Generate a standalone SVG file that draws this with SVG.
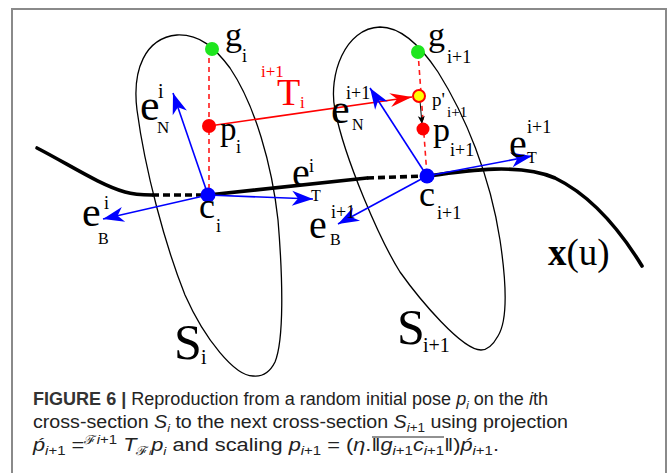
<svg xmlns="http://www.w3.org/2000/svg" width="670" height="473" viewBox="0 0 670 473">
<defs>
<style>
.frame{fill:none;stroke:#8a8a8a;stroke-width:2}
.outline{fill:none;stroke:#000;stroke-width:1.3}
.curve{fill:none;stroke:#000;stroke-width:3.6;stroke-linecap:round}
.curvedash{fill:none;stroke:#000;stroke-width:3.6;stroke-dasharray:7 4}
.reddash{fill:none;stroke:#ff1a1a;stroke-width:1.6;stroke-dasharray:5 4}
.vec{fill:none;stroke:#0000ff;stroke-width:1.6;marker-end:url(#blueHead)}
.tvec{fill:none;stroke:#ff0000;stroke-width:1.6;marker-end:url(#redHead)}
.kvec{fill:none;stroke:#000;stroke-width:1;marker-end:url(#blackHead)}
.lbl{font-family:"Liberation Serif","Times New Roman",serif;fill:#000}
.red{fill:#ff0000}
.cap{font-family:"Liberation Sans",Arial,sans-serif;font-size:17.5px;fill:#222}
.it{font-style:italic}
</style>
<marker id="blueHead" viewBox="-23 -9 25 18" markerWidth="25" markerHeight="18" refX="0" refY="0" orient="auto" markerUnits="userSpaceOnUse">
<path d="M0,0 L-21,-7.5 L-15,0 L-21,7.5 Z" fill="#0000ff"/>
</marker>
<marker id="redHead" viewBox="-24 -9 26 18" markerWidth="26" markerHeight="18" refX="0" refY="0" orient="auto" markerUnits="userSpaceOnUse">
<path d="M0,0 L-22,-7 L-15,0 L-22,7 Z" fill="#ff0000"/>
</marker>
<marker id="blackHead" viewBox="-10 -5 12 10" markerWidth="12" markerHeight="10" refX="0" refY="0" orient="auto" markerUnits="userSpaceOnUse">
<path d="M0,0 L-8,-3.5 L-6,0 L-8,3.5 Z" fill="#000"/>
</marker>
</defs>
<rect width="670" height="473" fill="#fff"/>
<path class="frame" d="M12,473 V9 H666 V473"/>

<g id="section-Si">
<path class="outline" d="M253,376 C235,376 205,340 185,295 C165,245 145,170 137,110 C132,70 145,38 177,35 C200,34 215,48 230,68 C255,105 272,165 278,220 C283,280 284,340 275,362 C270,372 262,377 253,376 Z"/>
<text class="lbl" x="174" y="359" font-size="50">S</text>
<text class="lbl" x="201" y="364" font-size="20">i</text>
</g>
<g id="section-Si1">
<path class="outline" d="M481,350 C462,350 420,300 400,272 C380,240 345,160 335,110 C328,75 345,28 380,27 C400,27 420,45 438,72 C465,115 490,175 500,240 C506,280 508,320 498,336 C493,345 488,350 481,350 Z"/>
<text class="lbl" x="397" y="344" font-size="50">S</text>
<text class="lbl" x="423" y="352" font-size="20">i+1</text>
</g>

<g id="curve-x">
<path class="curve" d="M37,148 C70,165 100,185 125,192 C135,195 145,195 152,195"/>
<path class="curvedash" d="M152,195 L205,195"/>
<path class="curve" d="M208,195 L367,178"/>
<path class="curvedash" d="M367,178 L425,176"/>
<path class="curve" d="M428,176 C470,170 520,163 555,178 C590,195 620,230 642,266"/>
<text class="lbl" x="548" y="265" font-size="37"><tspan font-weight="bold">x</tspan>(u)</text>
</g>

<g id="connectors">
<path class="reddash" d="M209,49 L209,195"/>
<path class="reddash" d="M418,52 L427,176"/>
<path class="tvec" d="M209,126 L412,97"/>
<path class="kvec" d="M420,101 L422,124"/>
<path class="vec" d="M208,195 L173,93"/>
<path class="vec" d="M208,195 L313,199"/>
<path class="vec" d="M208,195 L103,219"/>
<path class="vec" d="M427,176 L370,88"/>
<path class="vec" d="M427,176 L532,156"/>
<path class="vec" d="M427,176 L338,224"/>
</g>

<g id="node-gi">
<circle cx="212" cy="49" r="7" fill="#1ee61e"/>
<text class="lbl" x="225" y="46" font-size="34">g</text>
<text class="lbl" x="242" y="62" font-size="18">i</text>
</g>
<g id="node-pi">
<circle cx="209" cy="126" r="7" fill="#ff0000"/>
<text class="lbl" x="220" y="140" font-size="33">p</text>
<text class="lbl" x="236" y="153" font-size="18">i</text>
</g>
<g id="node-ci">
<circle cx="208" cy="195" r="7.5" fill="#0000ff"/>
<text class="lbl" x="199" y="218" font-size="36">c</text>
<text class="lbl" x="216" y="232" font-size="18">i</text>
</g>
<g id="node-gi1">
<circle cx="418" cy="52" r="7" fill="#1ee61e"/>
<text class="lbl" x="428" y="46" font-size="34">g</text>
<text class="lbl" x="447" y="63" font-size="18">i+1</text>
</g>
<g id="node-pprime">
<circle cx="419" cy="96" r="6" fill="#ffff00" stroke="#ff0000" stroke-width="2"/>
<text class="lbl" x="432" y="106" font-size="19">p'</text>
<text class="lbl" x="447" y="117" font-size="15">i+1</text>
</g>
<g id="node-pi1">
<circle cx="423" cy="129" r="6.5" fill="#ff0000"/>
<text class="lbl" x="433" y="141" font-size="34">p</text>
<text class="lbl" x="450" y="156" font-size="18">i+1</text>
</g>
<g id="node-ci1">
<circle cx="427" cy="176" r="7.5" fill="#0000ff"/>
<text class="lbl" x="419" y="206" font-size="36">c</text>
<text class="lbl" x="437" y="219" font-size="18">i+1</text>
</g>

<g id="label-T">
<text class="lbl red" x="277" y="105" font-size="38">T</text>
<text class="lbl red" x="261" y="77" font-size="17">i+1</text>
<text class="lbl red" x="300" y="108" font-size="17">i</text>
</g>
<g id="label-eNi">
<text class="lbl" x="140" y="120" font-size="44">e</text>
<text class="lbl" x="158" y="98" font-size="20">i</text>
<text class="lbl" x="157" y="133" font-size="17">N</text>
</g>
<g id="label-eTi">
<text class="lbl" x="292" y="186" font-size="40">e</text>
<text class="lbl" x="309" y="172" font-size="18">i</text>
<text class="lbl" x="311" y="201" font-size="16">T</text>
</g>
<g id="label-eBi">
<text class="lbl" x="82" y="226" font-size="42">e</text>
<text class="lbl" x="104" y="209" font-size="18">i</text>
<text class="lbl" x="98" y="244" font-size="16">B</text>
</g>
<g id="label-eBi1">
<text class="lbl" x="309" y="238" font-size="40">e</text>
<text class="lbl" x="331" y="218" font-size="18">i+1</text>
<text class="lbl" x="330" y="245" font-size="16">B</text>
</g>
<g id="label-eTi1">
<text class="lbl" x="509" y="157" font-size="40">e</text>
<text class="lbl" x="527" y="133" font-size="18">i+1</text>
<text class="lbl" x="527" y="163" font-size="16">T</text>
</g>
<g id="label-eNi1">
<text class="lbl" x="331" y="123" font-size="42">e</text>
<text class="lbl" x="346" y="99" font-size="18">i+1</text>
<text class="lbl" x="352" y="130" font-size="16">N</text>
</g>

<g id="caption">
<text class="cap" x="33" y="405" textLength="515" lengthAdjust="spacingAndGlyphs"><tspan font-weight="bold" fill="#333">FIGURE 6 |</tspan> Reproduction from a random initial pose <tspan class="it">p</tspan><tspan class="it" font-size="11" dy="4">i</tspan><tspan dy="-4"> on the </tspan><tspan class="it">i</tspan>th</text>
<text class="cap" x="33" y="428" textLength="535" lengthAdjust="spacingAndGlyphs">cross-section <tspan class="it">S</tspan><tspan class="it" font-size="11" dy="4">i</tspan><tspan dy="-4"> to the next cross-section </tspan><tspan class="it">S</tspan><tspan font-size="12" dy="4"><tspan class="it">i</tspan>+1</tspan><tspan dy="-4"> using projection</tspan></text>
<text class="cap" x="33" y="451" textLength="466" lengthAdjust="spacingAndGlyphs"><tspan class="it">ṕ</tspan><tspan font-size="12" dy="4"><tspan class="it">i</tspan>+1</tspan><tspan dy="-4"> =</tspan><tspan font-size="12" dy="-7">ℱ<tspan class="it">i</tspan>+1</tspan><tspan dy="7"> </tspan><tspan class="it">T</tspan><tspan font-size="12" dy="4">ℱ<tspan font-size="8" class="it">i</tspan></tspan><tspan class="it" dy="-4">p</tspan><tspan class="it" font-size="11" dy="4">i</tspan><tspan dy="-4"> and scaling </tspan><tspan class="it">p</tspan><tspan font-size="12" dy="4"><tspan class="it">i</tspan>+1</tspan><tspan dy="-4"> = (</tspan><tspan class="it">η</tspan>.‖<tspan class="it">g</tspan><tspan font-size="12" dy="4"><tspan class="it">i</tspan>+1</tspan><tspan class="it" dy="-4">c</tspan><tspan font-size="12" dy="4"><tspan class="it">i</tspan>+1</tspan><tspan dy="-4">‖)</tspan><tspan class="it">ṕ</tspan><tspan font-size="12" dy="4"><tspan class="it">i</tspan>+1</tspan><tspan dy="-4">.</tspan></text>
<line x1="372" y1="437" x2="444" y2="437" stroke="#222" stroke-width="1"/>
</g>
</svg>
